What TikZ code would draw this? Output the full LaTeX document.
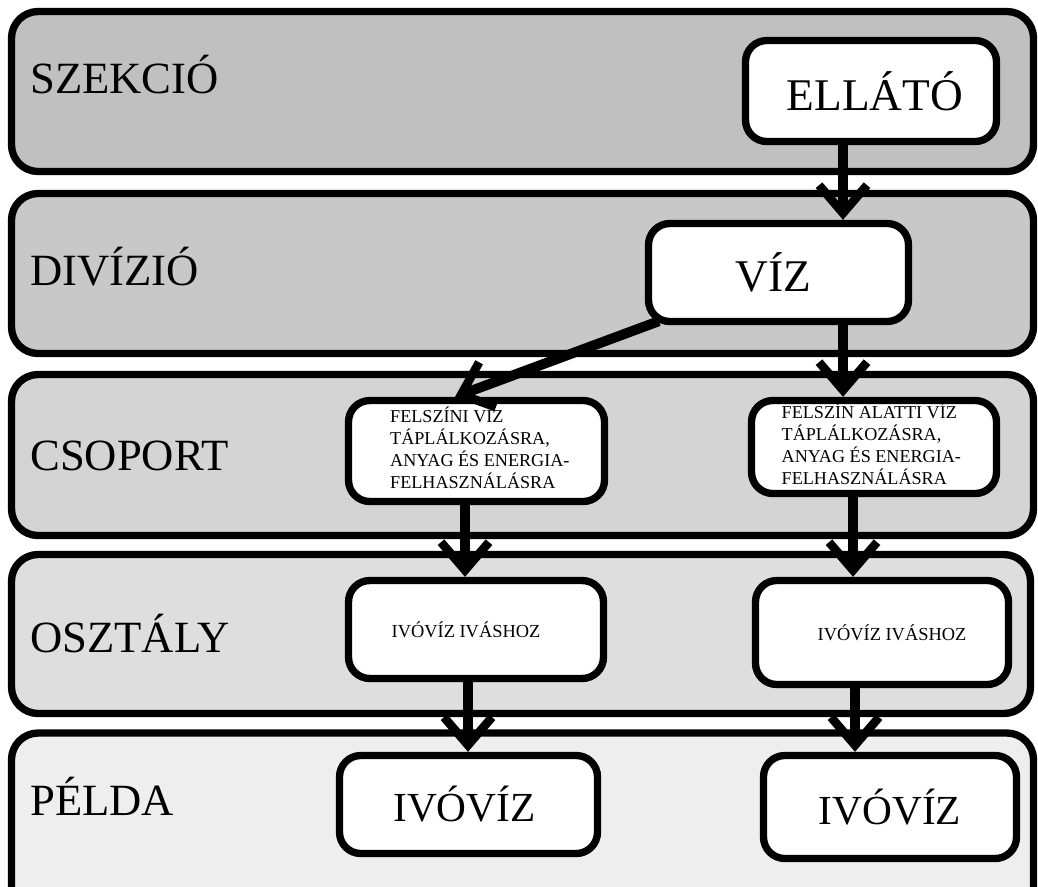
\documentclass[tikz,border=0pt]{standalone}
\usepackage{fontspec}
\setmainfont{Liberation Serif}
\usetikzlibrary{arrows.meta,calc}
\definecolor{bandA}{RGB}{192,192,192}
\definecolor{bandB}{RGB}{200,200,200}
\definecolor{bandC}{RGB}{212,212,212}
\definecolor{bandD}{RGB}{222,222,222}
\definecolor{bandE}{RGB}{238,238,238}
\tikzset{
  band/.style={draw=black, line width=5.5pt, rounded corners=20pt, inner sep=0pt},
  bandlabel/.style={anchor=base west, inner sep=0pt, font=\fontsize{33.5}{36}\selectfont},
  box/.style={draw=black, fill=white, line width=5.5pt, rounded corners=16pt, inner sep=0pt},
  bigtext/.style={font=\fontsize{34}{38}\selectfont},
  smalltext/.style={font=\fontsize{13.6}{16.5}\selectfont, align=left},
  midtext/.style={font=\fontsize{13.8}{16}\selectfont},
  arr/.style={line width=7.5pt, -{Straight Barb[length=21pt,width=36pt,line width=6.5pt]}}
}
\begin{document}
\begin{tikzpicture}[x=0.75pt,y=-0.75pt]
\useasboundingbox (0,0) rectangle (1038,886);
\fill[white] (0,0) rectangle (1038,886);
\clip (0,0) rectangle (1038,886);
% bands
\node[band, fill=bandA, minimum width=1022*0.75pt, minimum height=160*0.75pt] (b1) at (522.5,91.5) {};
\node[band, fill=bandB, minimum width=1022*0.75pt, minimum height=160*0.75pt] (b2) at (522.5,273.5) {};
\node[band, fill=bandC, minimum width=1022*0.75pt, minimum height=161*0.75pt] (b3) at (522.5,455) {};
\node[band, fill=bandD, minimum width=1019*0.75pt, minimum height=159*0.75pt] (b4) at (521,634) {};
\node[band, fill=bandE, minimum width=1022*0.75pt, minimum height=180*0.75pt] (b5) at (522.5,823) {};
% band labels
\node[bandlabel] (l1) at (30,93) {SZEKCIÓ};
\node[bandlabel] (l2) at (30,285) {DIVÍZIÓ};
\node[bandlabel] (l3) at (30,470) {CSOPORT};
\node[bandlabel] (l4) at (30,652) {OSZTÁLY};
\node[bandlabel] (l5) at (30,815) {PÉLDA};
% boxes
\node[box, bigtext, minimum width=251*0.75pt, minimum height=101*0.75pt] (ellato) at (871,91) {\hspace*{6pt}ELLÁTÓ};
\node[box, bigtext, minimum width=260*0.75pt, minimum height=98*0.75pt] (viz) at (778.5,272.5) {VÍZ\hspace*{8pt}};
\node[box, smalltext, minimum width=256*0.75pt, minimum height=101*0.75pt] (c1) at (476.5,451) {\hspace*{5pt}\begin{tabular}{@{}l@{}}FELSZÍNI VÍZ\\TÁPLÁLKOZÁSRA,\\ANYAG ÉS ENERGIA-\\FELHASZNÁLÁSRA\end{tabular}};
\node[box, smalltext, minimum width=245*0.75pt, minimum height=93*0.75pt] (c2) at (874,447) {\begin{tabular}{@{}l@{}}FELSZÍN ALATTI VÍZ\\TÁPLÁLKOZÁSRA,\\ANYAG ÉS ENERGIA-\\FELHASZNÁLÁSRA\end{tabular}\hspace*{4pt}};
\node[box, midtext, minimum width=255*0.75pt, minimum height=98*0.75pt] (o1) at (476,629.5) {IVÓVÍZ IVÁSHOZ\hspace*{15pt}};
\node[box, midtext, minimum width=253*0.75pt, minimum height=104*0.75pt] (o2) at (882,632.5) {\hspace*{15pt}IVÓVÍZ IVÁSHOZ};
\node[box, font=\fontsize{31}{34}\selectfont, minimum width=258*0.75pt, minimum height=98*0.75pt] (p1) at (468.5,804.5) {IVÓVÍZ\hspace*{6pt}};
\node[box, font=\fontsize{31}{34}\selectfont, minimum width=253*0.75pt, minimum height=103*0.75pt] (p2) at (890,807) {IVÓVÍZ};
% arrows
\draw[arr] (ellato.south -| 843,0) -- (viz.north -| 843,0);
\draw[arr] ($(viz.south west)+(14,-4)$) -- (c1.north -| 455,0);
\draw[arr] (viz.south -| 843,0) -- (c2.north -| 843,0);
\draw[arr] (c1.south -| 465,0) -- (o1.north -| 465,0);
\draw[arr] (c2.south -| 853,0) -- (o2.north -| 853,0);
\draw[arr] (o1.south -| 468,0) -- (p1.north -| 468,0);
\draw[arr] (o2.south -| 855,0) -- (p2.north -| 855,0);
\end{tikzpicture}
\end{document}
